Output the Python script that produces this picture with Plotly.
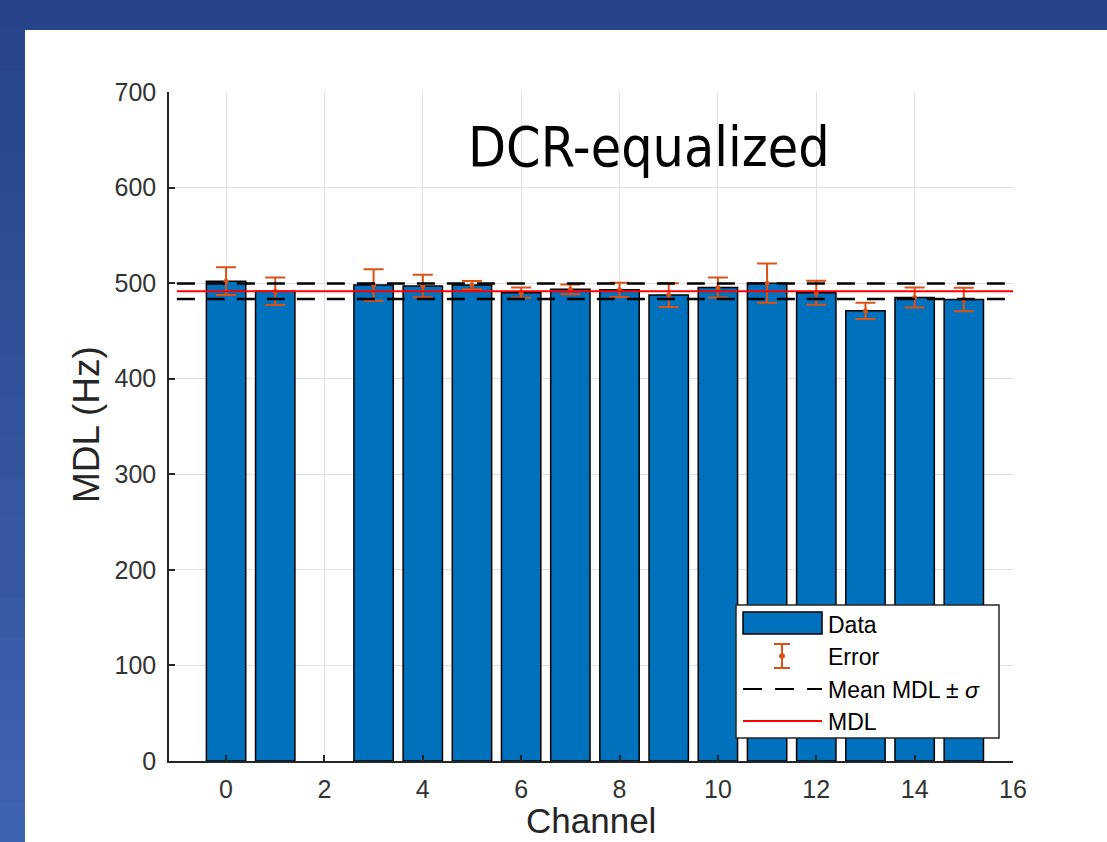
import plotly.graph_objects as go

# ---- data ----
channels = list(range(16))
mdl = [502, 491.5, None, 498, 497, 498, 490, 493.5, 493, 487.5, 495.5, 500, 490, 471, 485, 483]
mdl_err = [14.5, 14.5, None, 16.5, 11.7, 4.3, 5.4, 5, 7.4, 12.5, 10.5, 20.6, 12.6, 8.4, 10.5, 12.3]
mean_mdl = 491.5
sigma_mdl = 8.0
line_x = [-1, 16]
x_ticks = [0, 2, 4, 6, 8, 10, 12, 14, 16]
y_ticks = [0, 100, 200, 300, 400, 500, 600, 700]
legend_labels = ["Data", "Error", "Mean MDL ± <i>σ</i>", "MDL"]

W, H = 1107, 842
L, R, T, B = 169, 1013, 92, 761
pw, ph = R - L, B - T

def px(x):
    return (x - L) / pw

def py(y):
    return (B - y) / ph

BLUE = "#0072BD"
ORANGE = "#D95319"
DASH = "18px,12px"

fig = go.Figure()

fig.add_trace(go.Bar(
    x=channels, y=mdl, width=0.8, name="Data",
    marker=dict(color=BLUE, line=dict(color="#000000", width=1.5)),
))
fig.add_trace(go.Scatter(
    x=channels, y=mdl, mode="markers", name="Error",
    marker=dict(color=ORANGE, size=5),
    error_y=dict(type="data", array=mdl_err, color=ORANGE, thickness=2, width=10),
))
fig.add_trace(go.Scatter(
    x=line_x + [None] + line_x,
    y=[mean_mdl + sigma_mdl] * 2 + [None] + [mean_mdl - sigma_mdl] * 2,
    mode="lines", name="Mean MDL ± σ",
    line=dict(color="#000000", width=2.5, dash=DASH),
))
fig.add_trace(go.Scatter(
    x=line_x, y=[mean_mdl] * 2, mode="lines", name="MDL",
    line=dict(color="#FF0000", width=2),
))

shapes = []
# background: top band and left gradient strip, white panel
shapes.append(dict(type="rect", xref="paper", yref="paper", layer="below",
                   x0=px(0), x1=px(W), y0=py(30), y1=py(0),
                   fillcolor="#27448a", line=dict(width=0)))
n = 20
c0 = (0x28, 0x45, 0x8b)
c1 = (0x3f, 0x64, 0xb1)
for i in range(n):
    ya = 30 + (H - 30) * i / n
    yb = 30 + (H - 30) * (i + 1) / n
    t = (i + 0.5) / n
    col = "rgb(%d,%d,%d)" % tuple(int(c0[k] + (c1[k] - c0[k]) * t) for k in range(3))
    shapes.append(dict(type="rect", xref="paper", yref="paper", layer="below",
                       x0=px(0), x1=px(25), y0=py(yb + 1), y1=py(ya),
                       fillcolor=col, line=dict(width=0)))
shapes.append(dict(type="rect", xref="paper", yref="paper", layer="below",
                   x0=px(25), x1=px(W + 5), y0=py(H + 5), y1=py(30),
                   fillcolor="#ffffff", line=dict(width=0)))

# ---- hand-drawn legend (MATLAB style) ----
def pshape(**kw):
    d = dict(xref="paper", yref="paper", layer="above")
    d.update(kw)
    return d

shapes.append(pshape(type="rect", x0=px(736), x1=px(999), y0=py(738), y1=py(605),
                     fillcolor="#ffffff", line=dict(color="#262626", width=1.5)))
# Data
shapes.append(pshape(type="rect", x0=px(743), x1=px(822), y0=py(634), y1=py(612),
                     fillcolor=BLUE, line=dict(color="#000000", width=1.5)))
# Error
shapes.append(pshape(type="line", x0=px(782), x1=px(782), y0=py(668), y1=py(644),
                     line=dict(color=ORANGE, width=2)))
shapes.append(pshape(type="line", x0=px(774), x1=px(790), y0=py(644), y1=py(644),
                     line=dict(color=ORANGE, width=2)))
shapes.append(pshape(type="line", x0=px(774), x1=px(790), y0=py(668), y1=py(668),
                     line=dict(color=ORANGE, width=2)))
shapes.append(pshape(type="circle", x0=px(779.5), x1=px(784.5), y0=py(658.5), y1=py(653.5),
                     fillcolor=ORANGE, line=dict(color=ORANGE, width=1)))
# Mean +- sigma
shapes.append(pshape(type="line", x0=px(743), x1=px(822), y0=py(689), y1=py(689),
                     line=dict(color="#000000", width=2, dash="19px,13px")))
# MDL
shapes.append(pshape(type="line", x0=px(743), x1=px(822), y0=py(721), y1=py(721),
                     line=dict(color="#FF0000", width=2)))

annotations = [
    dict(text="DCR-equalized", xref="paper", yref="paper", x=px(649), y=py(147),
         xanchor="center", yanchor="middle", showarrow=False,
         font=dict(family="Liberation Sans Narrow, DejaVu Sans Condensed, Roboto Condensed, Arial Narrow, sans-serif",
                   size=55, color="#000000")),
    dict(text="MDL (Hz)", xref="paper", yref="paper", x=px(86), y=py(425),
         xanchor="center", yanchor="middle", showarrow=False, textangle=-90,
         font=dict(family="Liberation Sans, Arial, sans-serif", size=37, color="#262626")),
    dict(text="Channel", xref="paper", yref="paper", x=px(591), y=py(842),
         xanchor="center", yanchor="bottom", showarrow=False,
         font=dict(family="Liberation Sans, Arial, sans-serif", size=35, color="#262626")),
]
leg_y = [625, 657, 690, 722]
for lab, yy in zip(legend_labels, leg_y):
    annotations.append(dict(text=lab, xref="paper", yref="paper", x=px(826), y=py(yy),
                            xanchor="left", yanchor="middle", showarrow=False,
                            font=dict(family="Liberation Sans, Arial, sans-serif", size=23,
                                      color="#000000")))

fig.update_layout(
    width=W, height=H,
    margin=dict(l=L, r=W - R, t=T, b=H - B, pad=0),
    paper_bgcolor="#27448a", plot_bgcolor="#ffffff",
    shapes=shapes, annotations=annotations,
    showlegend=False,
    font=dict(family="Liberation Sans, Arial, sans-serif", color="#262626"),
    bargap=0.2,
)
fig.update_xaxes(range=[-1.16, 16], tickvals=x_ticks, ticktext=[str(v) for v in x_ticks],
                 showgrid=True, gridcolor="#e0e0e0", gridwidth=1, zeroline=False,
                 showline=True, linecolor="#262626", linewidth=1.5,
                 ticks="inside", ticklen=6, tickcolor="#262626", tickwidth=1.5,
                 ticklabelstandoff=5,
                 tickfont=dict(size=25, color="#333333"))
fig.update_yaxes(range=[0, 700], tickvals=y_ticks, ticktext=[str(v) for v in y_ticks],
                 showgrid=True, gridcolor="#e0e0e0", gridwidth=1, zeroline=False,
                 showline=True, linecolor="#262626", linewidth=1.5,
                 ticks="inside", ticklen=6, tickcolor="#262626", tickwidth=1.5,
                 ticklabelstandoff=6,
                 tickfont=dict(size=25, color="#333333"))

fig.write_html("out.html")
